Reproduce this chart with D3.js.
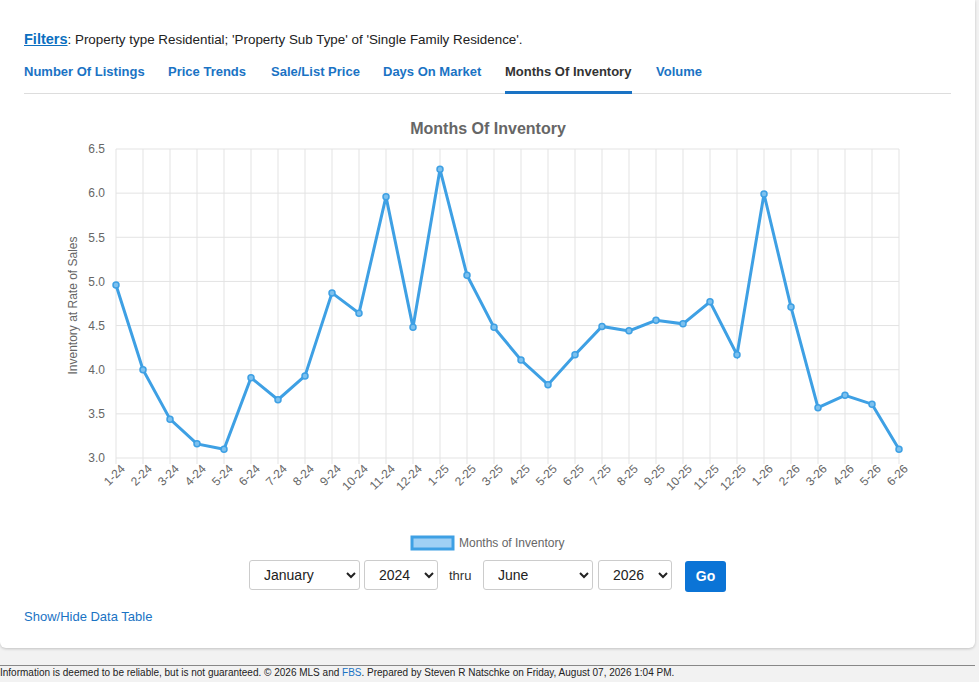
<!DOCTYPE html>
<html><head><meta charset="utf-8">
<script src="https://cdn.jsdelivr.net/npm/d3@7"></script>
<style>
body{margin:0;background:#f2f2f2;font-family:"Liberation Sans",Arial,sans-serif;width:979px;height:682px;overflow:hidden;position:relative}
.card{position:absolute;left:0;top:0;width:975px;height:648px;background:#fff;border-radius:0 0 6px 6px;box-shadow:0 1px 3px rgba(0,0,0,.2)}
.abs{position:absolute}
.filters{left:24px;top:31px;font-size:13.4px;color:#222}
.filters a{color:#0b6fc0;font-weight:bold;text-decoration:underline;font-size:14.5px}
.tab{top:64px;font-size:13px;font-weight:bold;color:#1a73c4}
.tabline{left:24px;top:93px;width:927px;height:1px;background:#ddd}
select{position:absolute;top:560px;height:30px;font-size:14px;border:1px solid #ccc;border-radius:3px;background:#fff;padding:0 6px 0 10px;color:#222;font-family:"Liberation Sans",Arial,sans-serif}
.go{left:685px;top:561px;width:41px;height:31px;background:#0b74d6;color:#fff;font-weight:bold;font-size:14px;border-radius:3px;text-align:center;line-height:31px}
.foot{left:0;top:665px;width:975px;border-top:1px solid #888;font-size:10px;color:#222;padding-top:1px}
</style></head><body>
<div class="card"></div>
<div class="abs filters"><a>Filters</a>: Property type Residential; 'Property Sub Type' of 'Single Family Residence'.</div>
<div class="abs tab" style="left:24px">Number Of Listings</div>
<div class="abs tab" style="left:168px">Price Trends</div>
<div class="abs tab" style="left:271px">Sale/List Price</div>
<div class="abs tab" style="left:383px">Days On Market</div>
<div class="abs tab" style="left:505px;color:#333">Months Of Inventory</div>
<div class="abs tab" style="left:656px">Volume</div>
<div class="abs tabline"></div>
<div class="abs" style="left:505px;top:91px;width:127px;height:3px;background:#1a73c4"></div>
<svg class="abs" id="chart" style="left:0;top:0" width="979" height="560"></svg>
<select style="left:249px;width:111px"><option>January</option></select>
<select style="left:364px;width:74px"><option>2024</option></select>
<div class="abs" style="left:449px;top:568px;font-size:13px;color:#333">thru</div>
<select style="left:483px;width:110px"><option>June</option></select>
<select style="left:598px;width:74px"><option>2026</option></select>
<div class="abs go">Go</div>
<div class="abs" style="left:24px;top:609px;font-size:13px;color:#1a73c4">Show/Hide Data Table</div>
<div class="abs foot">Information is deemed to be reliable, but is not guaranteed. © 2026 MLS and <span style="color:#1a73c4">FBS</span>. Prepared by Steven R Natschke on Friday, August 07, 2026 1:04 PM.</div>
<script>
var months = ["1-24","2-24","3-24","4-24","5-24","6-24","7-24","8-24","9-24","10-24","11-24","12-24",
  "1-25","2-25","3-25","4-25","5-25","6-25","7-25","8-25","9-25","10-25","11-25","12-25",
  "1-26","2-26","3-26","4-26","5-26","6-26"];
var inventory = [4.96,4.00,3.44,3.16,3.10,3.91,3.66,3.93,4.87,4.64,5.96,4.48,
  6.27,5.07,4.48,4.11,3.83,4.17,4.49,4.44,4.56,4.52,4.77,4.17,
  5.99,4.71,3.57,3.71,3.61,3.10];
var yTicks = [3.0,3.5,4.0,4.5,5.0,5.5,6.0,6.5];

var svg = d3.select("#chart");
var plotLeft = 116, plotRight = 899, plotTop = 149, plotBottom = 458;
var x = d3.scalePoint().domain(months).range([plotLeft, plotRight]);
var y = d3.scaleLinear().domain([3, 6.5]).range([plotBottom, plotTop]);
var lineColor = "#3ea0e4";

// grid
svg.append("g").selectAll("line").data(yTicks).enter().append("line")
  .attr("x1", plotLeft).attr("x2", plotRight).attr("y1", d => y(d)).attr("y2", d => y(d))
  .attr("stroke", "#e3e3e3");
svg.append("g").selectAll("line").data(months).enter().append("line")
  .attr("x1", d => x(d)).attr("x2", d => x(d)).attr("y1", plotTop).attr("y2", plotBottom + 6)
  .attr("stroke", "#e3e3e3");

svg.append("g").attr("transform", `translate(${plotLeft - 8},0)`)
  .call(d3.axisLeft(y).tickValues(yTicks).tickFormat(d3.format(".1f")).tickSize(0))
  .call(g => g.select(".domain").remove())
  .selectAll("text").attr("fill", "#666").style("font-size", "12px");

svg.append("g").attr("transform", `translate(0,${plotBottom + 8})`)
  .call(d3.axisBottom(x).tickSize(0))
  .call(g => g.select(".domain").remove())
  .selectAll("text").attr("fill", "#666").style("font-size", "12px")
  .attr("text-anchor", "end").attr("dx", "4").attr("dy", "6")
  .attr("transform", "rotate(-45)");

svg.append("text").attr("transform", `translate(77,${(plotTop + plotBottom) / 2 + 2}) rotate(-90)`)
  .attr("text-anchor", "middle").attr("fill", "#666").style("font-size", "12px")
  .text("Inventory at Rate of Sales");

svg.append("text").attr("x", 488).attr("y", 134).attr("text-anchor", "middle")
  .attr("fill", "#666").style("font-size", "16px").style("font-weight", "bold")
  .text("Months Of Inventory");

svg.append("path").datum(inventory)
  .attr("fill", "none").attr("stroke", lineColor).attr("stroke-width", 3)
  .attr("d", d3.line().x((d, i) => x(months[i])).y(d => y(d)));

svg.append("g").selectAll("circle").data(inventory).enter().append("circle")
  .attr("cx", (d, i) => x(months[i])).attr("cy", d => y(d)).attr("r", 3)
  .attr("fill", "#7cc0ee").attr("stroke", lineColor).attr("stroke-width", 1.5);

// legend
svg.append("rect").attr("x", 412).attr("y", 537).attr("width", 41).attr("height", 12)
  .attr("fill", "#9fd0f5").attr("stroke", lineColor).attr("stroke-width", 3);
svg.append("text").attr("x", 459).attr("y", 547).attr("fill", "#666").style("font-size", "12px")
  .text("Months of Inventory");
</script>
</body></html>
